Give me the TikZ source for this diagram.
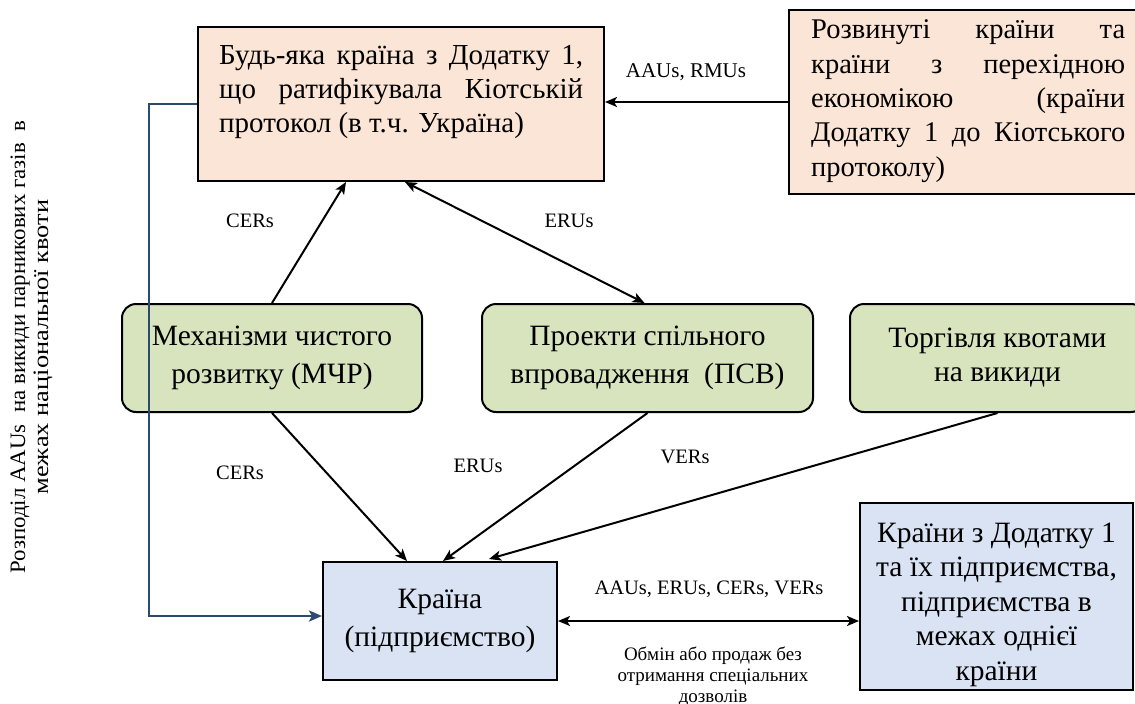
\documentclass[tikz,border=0pt]{standalone}
\usepackage{fontspec}
\setmainfont{Liberation Serif}
\usetikzlibrary{arrows.meta,calc}
\definecolor{peachfill}{HTML}{FBE5D6}
\definecolor{greenfill}{HTML}{D7E4BD}
\definecolor{bluefill}{HTML}{DAE3F3}
\definecolor{navyline}{HTML}{2C4A70}
\newcommand{\jl}[2]{\makebox[#1][s]{#2}}
\begin{document}
\begin{tikzpicture}[x=1pt,y=-1pt,
  box/.style={draw=black, line width=2pt, inner sep=0pt},
  peachbox/.style={box, fill=peachfill},
  greenbox/.style={box, fill=greenfill, rounded corners=14pt, align=center, font=\fontsize{29.5}{38}\selectfont},
  bluebox/.style={box, fill=bluefill, align=center},
  boxtext/.style={inner sep=0pt, font=\fontsize{29}{34}\selectfont},
  lbl/.style={inner sep=0pt, font=\fontsize{20.5}{23}\selectfont, anchor=base},
  tip/.tip={Stealth[length=12pt,width=10pt,inset=3pt]},
  arr/.style={line width=2pt, -tip},
  darr/.style={line width=2pt, tip-tip},
  bluearr/.style={line width=2.8pt, draw=navyline, -{Stealth[length=13pt,width=11pt,inset=3pt,fill=navyline]}}
]
\useasboundingbox (0,0) rectangle (1135,704);

% boxes
\node[peachbox, minimum width=406pt, minimum height=154pt] (A) at (401,104) {};
\node[boxtext, anchor=base west, align=left] (At) at (219,132)
  {\jl{364pt}{Будь-яка країна з Додатку 1,}\\ \jl{364pt}{що ратифікувала Кіотській}\\ протокол (в т.ч. Україна)};

\node[peachbox, minimum width=358pt, minimum height=184pt] (B) at (968,102) {};
\node[boxtext, anchor=base west, align=left, font=\fontsize{28.5}{34.3}\selectfont] (Bt) at (811,176)
  {\jl{314pt}{Розвинуті країни та}\\ \jl{314pt}{країни з перехідною}\\ \jl{314pt}{економікою (країни}\\ \jl{314pt}{Додатку 1 до Кіотського}\\ протоколу)};

\node[greenbox, minimum width=300pt, minimum height=108pt] (M) at (272,358)
  {Механізми чистого\\розвитку (МЧР)};
\node[greenbox, minimum width=331pt, minimum height=108pt] (P) at (647.5,358)
  {Проекти спільного\\впровадження\ \ (ПСВ)};
\node[greenbox, minimum width=295pt, minimum height=108pt, font=\fontsize{29.5}{34}\selectfont] (T) at (997.5,358)
  {Торгівля квотами\\на викиди};

\node[bluebox, minimum width=234pt, minimum height=118pt, font=\fontsize{29.5}{38}\selectfont] (C) at (440,621)
  {Країна\\(підприємство)};

\node[bluebox, minimum width=273pt, minimum height=187pt] (R) at (996.5,596.5) {};
\node[boxtext, anchor=base, align=center, font=\fontsize{29.5}{34.5}\selectfont] (Rt) at (996.5,680)
  {Країни з Додатку 1\\та їх підприємства,\\підприємства в\\межах однієї\\країни};

% side text
\node[rotate=90, inner sep=0pt] (side) at (32,347)
  {\fontsize{22}{23}\selectfont\begin{tabular}{@{}c@{}}\scalebox{1.04}[1]{Розподіл AAUs \ на викиди парникових газів \ в}\\\scalebox{1.2}[1]{межах національної квоти}\end{tabular}};

% connectors
\draw[arr] (B.west) -- (B.west -| A.east);
\draw[arr] (M.north) -- ($(A.south)+(-55,0)$);
\draw[darr] ($(A.south)+(4,0)$) -- ($(P.north)+(-3,0)$);
\draw[arr] (M.south) -- ($(C.north)+(-33,0)$);
\draw[arr] (P.south) -- ($(C.north)+(3,0)$);
\draw[arr] (T.south) -- ($(C.north)+(49,-2)$);
\draw[darr] (C.east) -- (C.east -| R.west);
\coordinate (bl) at (149,0);
\draw[bluearr] (A.west) -- (A.west -| bl) |- ($(C.west)+(0,-5)$);

% labels
\node[lbl, font=\fontsize{21}{23}\selectfont] (l1) at (686,77) {AAUs, RMUs};
\node[lbl] (l2) at (250,227) {CERs};
\node[lbl] (l3) at (569,227) {ERUs};
\node[lbl] (l4) at (240,479) {CERs};
\node[lbl] (l5) at (478,472) {ERUs};
\node[lbl] (l6) at (685,463) {VERs};
\node[lbl] (l7) at (709,594) {AAUs, ERUs, CERs, VERs};
\node[inner sep=0pt, anchor=base, align=center, font=\fontsize{19}{21}\selectfont] (l8) at (713,702)
  {Обмін або продаж без\\отримання спеціальних\\дозволів};
\end{tikzpicture}
\end{document}
